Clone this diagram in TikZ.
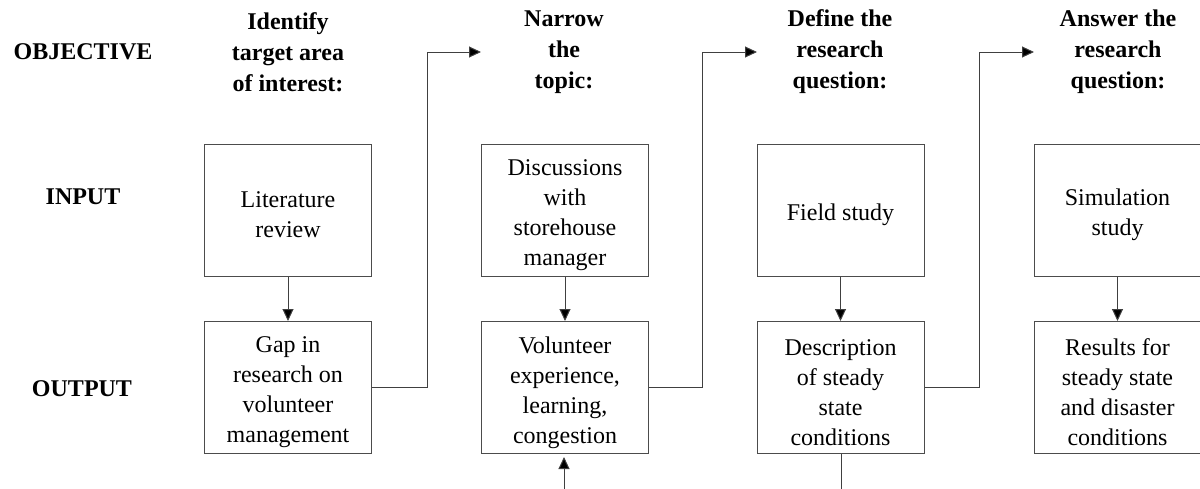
\documentclass[tikz,border=0pt]{standalone}
\usepackage{fontspec}
\setmainfont{Liberation Serif}
\usetikzlibrary{arrows.meta}
\begin{document}
\begin{tikzpicture}[x=1pt,y=-1pt,
  every node/.style={font=\fontsize{24}{30}\selectfont, align=center},
  stagebox/.style={draw=black!70, line width=1pt, minimum width=167pt, minimum height=132pt, inner sep=0pt},
  boxtext/.style={inner sep=0pt},
  headtxt/.style={font=\fontsize{24}{31}\selectfont\bfseries},
  rowtxt/.style={font=\fontsize{24}{30}\selectfont\bfseries},
  link/.style={draw=black!75, line width=1pt},
  arrowlink/.style={link, -{Triangle[length=12pt,width=11pt,fill=black]}}
]
\useasboundingbox (0,0) rectangle (1200,488);
\clip (0,0) rectangle (1200,488);

% row labels
\node[rowtxt] (lobj) at (83,52) {OBJECTIVE};
\node[rowtxt] (linp) at (83,197) {INPUT};
\node[rowtxt] (lout) at (82,389) {OUTPUT};

% column headings
\node[headtxt] (h1) at (288,52) {Identify\\target area\\of interest:};
\node[headtxt] (h2) at (564,52) {Narrow\\the\\topic:};
\node[headtxt] (h3) at (840,52) {Define the\\research\\question:};
\node[headtxt] (h4) at (1118,52) {Answer the\\research\\question:};

% input boxes
\node[stagebox] (in1) at (288,210) {};
\node[stagebox] (in2) at (565,210) {};
\node[stagebox] (in3) at (840.5,210) {};
\node[stagebox] (in4) at (1117.5,210) {};
\node[boxtext] (in1t) at ([yshift=-5pt]in1.center) {Literature\\review};
\node[boxtext] (in2t) at ([yshift=-5pt]in2.center) {Discussions\\with\\storehouse\\manager};
\node[boxtext] (in3t) at ([yshift=-5pt]in3.center) {Field study};
\node[boxtext] (in4t) at ([yshift=-5pt]in4.center) {Simulation\\study};

% output boxes
\node[stagebox] (out1) at (288,387.5) {};
\node[stagebox] (out2) at (565,387.5) {};
\node[stagebox] (out3) at (840.5,387.5) {};
\node[stagebox] (out4) at (1117.5,387.5) {};
\node[boxtext] (out1t) at ([yshift=-5pt]out1.center) {Gap in\\research on\\volunteer\\management};
\node[boxtext] (out2t) at ([yshift=-5pt]out2.center) {Volunteer\\experience,\\learning,\\congestion};
\node[boxtext] (out3t) at ([yshift=-5pt]out3.center) {Description\\of steady\\state\\conditions};
\node[boxtext] (out4t) at ([yshift=-5pt]out4.center) {Results for\\steady state\\and disaster\\conditions};

% input -> output
\draw[arrowlink] (in1) -- (out1);
\draw[arrowlink] (in2) -- (out2);
\draw[arrowlink] (in3) -- (out3);
\draw[arrowlink] (in4) -- (out4);

% output -> next objective
\coordinate (j1) at (427,52);
\coordinate (t1) at (481,52);
\coordinate (j2) at (702,52);
\coordinate (t2) at (757,52);
\coordinate (j3) at (979,52);
\coordinate (t3) at (1034,52);
\draw[arrowlink] (out1.east) -| (j1) -- (t1);
\draw[arrowlink] (out2.east) -| (j2) -- (t2);
\draw[arrowlink] (out3.east) -| (j3) -- (t3);

% feedback lines leaving the lower edge
\coordinate (b2) at (564,500);
\coordinate (b3) at (841,500);
\draw[arrowlink, shorten >=3pt] (b2) -- (b2 |- out2.south);
\draw[link] (out3.south -| b3) -- (b3);
\end{tikzpicture}
\end{document}
